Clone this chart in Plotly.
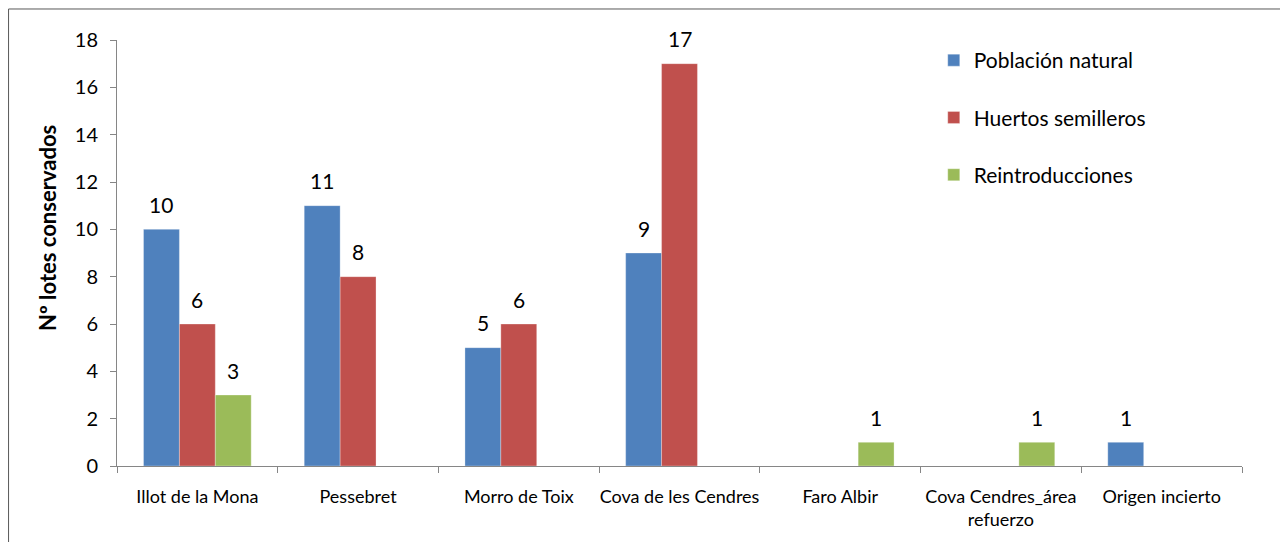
import plotly.graph_objects as go

categories = ["Illot de la Mona", "Pessebret", "Morro de Toix", "Cova de les Cendres",
              "Faro Albir", "Cova Cendres_área<br>refuerzo", "Origen incierto"]
poblacion_natural = [10, 11, 5, 9, 0, 0, 1]
huertos_semilleros = [6, 8, 6, 17, 0, 0, 0]
reintroducciones = [3, 0, 0, 0, 1, 1, 0]
series_names = ["Población natural", "Huertos semilleros", "Reintroducciones"]
series_values = [poblacion_natural, huertos_semilleros, reintroducciones]
colors = ["#4F81BD", "#C0504D", "#9BBB59"]
y_ticks = [0, 2, 4, 6, 8, 10, 12, 14, 16, 18]
y_title = "Nº lotes conservados"

FONT = "Lato, 'Open Sans', sans-serif"

fig = go.Figure()
for name, vals, col in zip(series_names, series_values, colors):
    fig.add_trace(go.Bar(
        x=categories, y=vals, name=name, legendgroup=name,
        marker=dict(color=col, line=dict(color="rgba(255,255,255,0.6)", width=0.5)),
    ))

# data labels above non-zero bars
offsets = [-36, 0, 36]
for vals, off in zip(series_values, offsets):
    for c, v in zip(categories, vals):
        if v:
            fig.add_annotation(x=c, y=v, text=str(v), xref="x", yref="y",
                               xshift=off, yshift=25, showarrow=False,
                               font=dict(size=21, color="black", family=FONT))

# y-axis title
fig.add_annotation(text="<b>" + y_title + "</b>", xref="paper", yref="paper",
                   x=-0.0613, y=0.5587, textangle=-90, showarrow=False,
                   xanchor="center", yanchor="middle",
                   font=dict(size=22, color="black", family=FONT))

# chart border
fig.add_shape(type="rect", xref="paper", yref="paper",
              x0=-0.0964, x1=1.0373, y0=-0.4, y1=1.0728,
              line=dict(color="#595959", width=1), layer="below")

fig.update_layout(
    width=1280, height=534,
    margin=dict(l=109, r=46, t=32, b=76, autoexpand=False),
    paper_bgcolor="white", plot_bgcolor="white",
    barmode="group", bargap=0.33, bargroupgap=0,
    font=dict(family=FONT, color="black"),
    showlegend=True,
    legend=dict(x=0.726, y=1.0, xanchor="left", yanchor="top",
                font=dict(size=21, color="black", family=FONT),
                tracegroupgap=27, bgcolor="rgba(0,0,0,0)"),
    xaxis=dict(showline=True, linecolor="#868686", linewidth=1,
               ticks="outside", tickson="boundaries", ticklen=6, tickcolor="#868686",
               ticklabelstandoff=14, tickangle=0, automargin=False,
               tickfont=dict(size=18, family=FONT), showgrid=False, zeroline=False),
    yaxis=dict(range=[0, 18], tickvals=y_ticks, showline=True, linecolor="#868686",
               linewidth=1, ticks="outside", ticklen=6, tickcolor="#868686",
               ticklabelstandoff=8, automargin=False,
               tickfont=dict(size=20, family=FONT), showgrid=False, zeroline=False),
)

fig.write_html("out.html")
